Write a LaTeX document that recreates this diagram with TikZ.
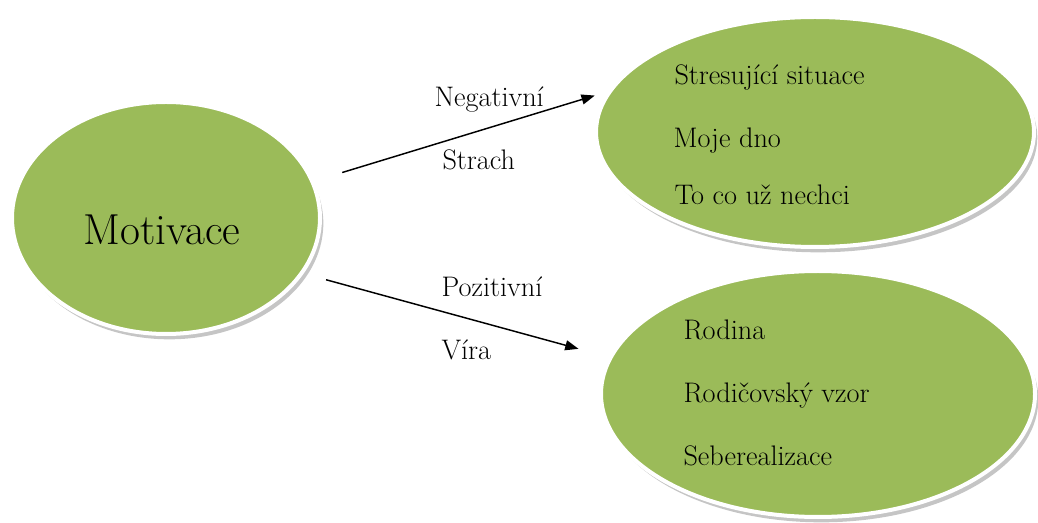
\documentclass[tikz,border=0pt]{standalone}
\usetikzlibrary{shapes.geometric,shadows,arrows.meta}

\tikzset{every picture/.style={line width=0.75pt}}
\tikzset{
  bubble/.style={ellipse, draw=white, line width=3pt, inner sep=0pt,
    fill={rgb, 255:red, 155; green, 187; blue, 89 },
    drop shadow={shadow xshift=2.5pt, shadow yshift=-4pt, fill=black!45, opacity=0.5}},
  lbl/.style={anchor=base west, inner sep=0.75pt, font=\fontsize{21.2}{25}\selectfont},
  pointer/.style={draw=black, line width=1.1pt, -{Triangle[length=10pt,width=7.5pt]}}
}

\begin{document}
\begin{tikzpicture}[x=0.75pt,y=0.75pt,yscale=-1,xscale=1]
\useasboundingbox (0,0) rectangle (1038,523);

%Shape: Ellipse [motivace]
\node [bubble, minimum width=231pt, minimum height=174pt] (motivace) at (166,218) {};
%Shape: Ellipse [negativni]
\node [bubble, minimum width=328.5pt, minimum height=172.5pt] (negbubble) at (815,132) {};
%Shape: Ellipse [pozitivni]
\node [bubble, minimum width=325.5pt, minimum height=184.5pt] (posbubble) at (818,394) {};

%Straight Lines
\draw [pointer, shorten <=22pt, shorten >=10pt] (motivace.14.3) -- (negbubble.169.8) ;
%Straight Lines
\draw [pointer, shorten <=17.5pt, shorten >=23.5pt] (motivace.338.7) -- (posbubble.170.6) ;

% Text Node
\node [lbl, font=\fontsize{32.5}{38}\selectfont] (motivlabel) at (82,245) {Motivace};
% Text Node
\node [lbl] (negativni) at (433,107) {Negativní};
% Text Node
\node [lbl] (strach) at (441,170) {Strach};
% Text Node
\node [lbl] (pozitivni) at (440,297) {Pozitivní};
% Text Node
\node [lbl] (vira) at (440,360) {Víra};

% Text Node
\node [lbl] (stres) at (673,85) {Stresující situace};
% Text Node
\node [lbl] (dno) at (672,148) {Moje dno};
% Text Node
\node [lbl] (nechci) at (673,205) {To co už nechci};
% Text Node
\node [lbl] (rodina) at (682,340) {Rodina};
% Text Node
\node [lbl] (vzor) at (682,403) {Rodičovský vzor};
% Text Node
\node [lbl] (seberealizace) at (682,465) {Seberealizace};

\end{tikzpicture}
\end{document}
